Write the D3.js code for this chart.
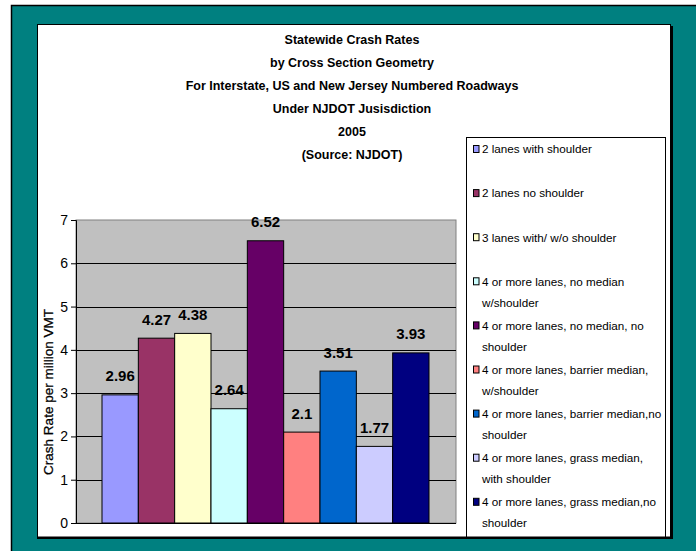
<!DOCTYPE html>
<html>
<head>
<meta charset="utf-8">
<script src="https://cdn.jsdelivr.net/npm/d3@7"></script>
<style>
  html, body { margin: 0; padding: 0; background: #008080; overflow: hidden; }
  svg { display: block; }
  text { font-family: "Liberation Sans", Arial, sans-serif; fill: #000; }
</style>
</head>
<body>
<svg id="chart" width="696" height="551"></svg>
<script>
// ---- data ----
const titleLines = [
  "Statewide Crash Rates",
  "by Cross Section Geometry",
  "For Interstate, US and New Jersey Numbered Roadways",
  "Under NJDOT Jusisdiction",
  "2005",
  "(Source: NJDOT)"
];
const seriesNames = [
  "2 lanes with shoulder",
  "2 lanes no shoulder",
  "3 lanes with/ w/o shoulder",
  "4 or more lanes, no median w/shoulder",
  "4 or more lanes, no median, no shoulder",
  "4 or more lanes, barrier median, w/shoulder",
  "4 or more lanes, barrier median,no shoulder",
  "4 or more lanes, grass median, with shoulder",
  "4 or more lanes, grass median,no shoulder"
];
const crashRates = [2.96, 4.27, 4.38, 2.64, 6.52, 2.1, 3.51, 1.77, 3.93];
const seriesColors = ["#9999FF", "#993366", "#FFFFCC", "#CCFFFF", "#660066",
                      "#FF8080", "#0066CC", "#CCCCFF", "#000080"];
const yTicks = [0, 1, 2, 3, 4, 5, 6, 7];
const yAxisTitle = "Crash Rate per million VMT";

// ---- layout ----
const svg = d3.select("#chart");
const plot = { left: 76, top: 220, right: 456, bottom: 523 };

// page background outside frame
svg.append("rect").attr("x", 0).attr("y", 0).attr("width", 696).attr("height", 551).attr("fill", "#fff");
// outer teal frame
svg.append("rect").attr("x", 11.5).attr("y", 5.5).attr("width", 700).attr("height", 560)
  .attr("fill", "#008080").attr("stroke", "#000").attr("stroke-width", 1.5);
// white chart area with shadow
svg.append("rect").attr("x", 39).attr("y", 26).attr("width", 634).attr("height", 513.5).attr("fill", "#000");
svg.append("rect").attr("x", 37.5).attr("y", 24.5).attr("width", 633).attr("height", 512.5).attr("fill", "#fff");

// scales
const y = d3.scaleLinear().domain([0, 7]).range([plot.bottom, plot.top]);
const x = d3.scaleBand().domain(seriesNames).range([plot.left + 26, plot.right - 27]).padding(0);

// plot area
svg.append("rect").attr("x", plot.left).attr("y", plot.top)
  .attr("width", plot.right - plot.left).attr("height", plot.bottom - plot.top)
  .attr("fill", "#C0C0C0").attr("stroke", "#808080").attr("stroke-width", 1);

// gridlines
svg.append("g").selectAll("line").data(yTicks.filter(d => d > 0 && d < 7)).join("line")
  .attr("x1", plot.left).attr("x2", plot.right)
  .attr("y1", d => Math.round(y(d)) + 0.5).attr("y2", d => Math.round(y(d)) + 0.5)
  .attr("stroke", "#000").attr("stroke-width", 1);

// bars
svg.append("g").selectAll("rect").data(crashRates).join("rect")
  .attr("x", (d, i) => x(seriesNames[i]))
  .attr("y", d => y(d))
  .attr("width", x.bandwidth())
  .attr("height", d => y(0) - y(d))
  .attr("fill", (d, i) => seriesColors[i])
  .attr("stroke", "#000").attr("stroke-width", 1);

// data labels
svg.append("g").selectAll("text").data(crashRates).join("text")
  .attr("x", (d, i) => x(seriesNames[i]) + x.bandwidth() / 2)
  .attr("y", d => y(d) - 13.5)
  .attr("text-anchor", "middle")
  .style("font-size", "15px").style("font-weight", "bold")
  .text(d => d);

// y axis
const yAxis = d3.axisLeft(y).tickValues(yTicks).tickSize(5).tickPadding(3).tickFormat(d3.format("d"));
const gy = svg.append("g").attr("transform", `translate(${plot.left},0)`).call(yAxis);
gy.select(".domain").attr("stroke", "#000");
gy.selectAll(".tick line").attr("stroke", "#000");
gy.selectAll(".tick text").style("font-size", "14px").style("font-family", '"Liberation Sans", Arial, sans-serif');

// x axis line
svg.append("line").attr("x1", plot.left).attr("x2", plot.right)
  .attr("y1", plot.bottom + 0.5).attr("y2", plot.bottom + 0.5).attr("stroke", "#000");

// y axis title
svg.append("text")
  .attr("transform", `translate(53,392) rotate(-90)`)
  .attr("text-anchor", "middle")
  .style("font-size", "13.5px")
  .style("stroke", "#000").style("stroke-width", 0.25)
  .text(yAxisTitle);

// title
svg.append("g").selectAll("text").data(titleLines).join("text")
  .attr("x", 352).attr("y", (d, i) => 43.5 + i * 23)
  .attr("text-anchor", "middle")
  .style("font-size", "12.5px").style("font-weight", "bold")
  .text(d => d);

// legend
const legend = svg.append("g");
legend.append("rect").attr("x", 466.5).attr("y", 137.5).attr("width", 199).attr("height", 405)
  .attr("fill", "#fff").attr("stroke", "#000").attr("stroke-width", 1);
const maxW = 183;
seriesNames.forEach((name, i) => {
  const cy = 149 + i * 44.1;
  legend.append("rect").attr("x", 473.5).attr("y", cy - 3.5).attr("width", 5.5).attr("height", 7)
    .attr("fill", seriesColors[i]).attr("stroke", "#000").attr("stroke-width", 1);
  const t = legend.append("text").attr("x", 482).attr("y", cy + 4.3).style("font-size", "11.7px");
  const words = name.split(" ");
  let line = [];
  let tspan = t.append("tspan").attr("x", 482).attr("dy", 0);
  words.forEach(w => {
    line.push(w);
    tspan.text(line.join(" "));
    if (tspan.node().getComputedTextLength() > maxW && line.length > 1) {
      line.pop();
      tspan.text(line.join(" "));
      line = [w];
      tspan = t.append("tspan").attr("x", 482).attr("dy", 21).text(w);
    }
  });
});

// white box border on top (clips legend bottom)
svg.append("rect").attr("x", 37.5).attr("y", 24.5).attr("width", 633).attr("height", 512.5)
  .attr("fill", "none").attr("stroke", "#000").attr("stroke-width", 1);
svg.append("rect").attr("x", 37).attr("y", 539).attr("width", 640).attr("height", 20).attr("fill", "#008080");
svg.append("line").attr("x1", 37).attr("x2", 672).attr("y1", 538).attr("y2", 538).attr("stroke", "#000").attr("stroke-width", 2);
</script>
</body>
</html>
